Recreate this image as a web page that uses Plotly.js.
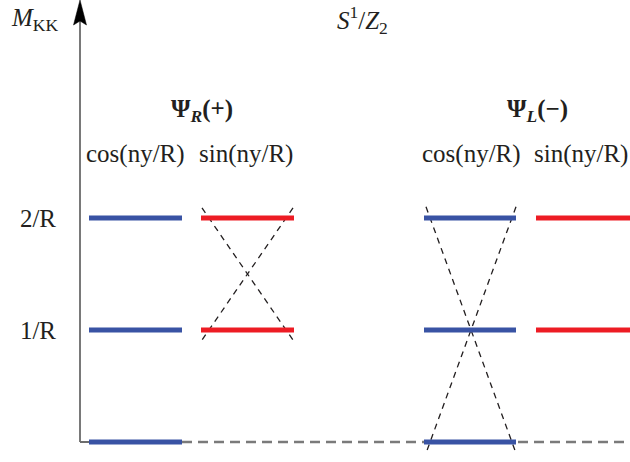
<!DOCTYPE html>
<html>
<head>
<meta charset="utf-8">
<script src="https://cdn.plot.ly/plotly-3.0.1.min.js"></script>
<style>html,body{margin:0;padding:0;background:#fff;}#chart{width:630px;height:462px;}</style>
</head>
<body>
<div id="chart"></div>
<script>
// ---- data ----
const levelTicks = [1, 2];
const levelLabels = ["1/R", "2/R"];
const cosR = [0, 1, 2];     // Psi_R(+) cos(ny/R) KK levels
const sinR = [1, 2];        // Psi_R(+) sin(ny/R) KK levels
const cosL = [0, 1, 2];     // Psi_L(-) cos(ny/R) KK levels
const sinL = [1, 2];        // Psi_L(-) sin(ny/R) KK levels
const mixR = [1, 2];        // levels joined by the crossing lines (Psi_R sin)
const mixL = [0, 2];        // levels joined by the crossing lines (Psi_L cos)
const columnLabels = ["cos(ny/R)", "sin(ny/R)", "cos(ny/R)", "sin(ny/R)"];
const groupLabels = ["<b>Ψ<sub><i>R</i></sub>(+)</b>", "<b>Ψ<sub><i>L</i></sub>(−)</b>"];

// ---- layout constants (pixel-like x scale) ----
const W = 630, H = 462, L = 80;
const yMin = -0.1786, yMax = 3.946;
const cols = [[89, 182], [201, 294], [424, 516], [536, 630]];
const BLUE = "#3953a4", RED = "#ed1c24", TXT = "#231f20";
const FONT = "Liberation Serif, Times New Roman, serif";

function bars(levels, col) {
  const x = [], y = [];
  levels.forEach(v => { x.push(col[0], col[1], null); y.push(v, v, null); });
  return {x, y};
}
function barTrace(levels, col, color) {
  const b = bars(levels, col);
  return {type: "scatter", mode: "lines", x: b.x, y: b.y, hoverinfo: "skip",
          line: {color: color, width: 5}, showlegend: false};
}
function crossTrace(lv, xa, xb, ext) {
  const lo = Math.min(...lv) - ext, hi = Math.max(...lv) + ext;
  return {type: "scatter", mode: "lines", hoverinfo: "skip", showlegend: false,
          x: [xa, xb, null, xb, xa], y: [hi, lo, null, hi, lo],
          line: {color: "#231f20", width: 1.3, dash: "6px,5px"}};
}

const traces = [
  {type: "scatter", mode: "lines", hoverinfo: "skip", showlegend: false,
   x: [cols[0][1], W], y: [cosR[0], cosR[0]],
   line: {color: "#7a7a7a", width: 2.3, dash: "10px,6px"}},
  crossTrace(mixR, 202, 293, 0.09),
  crossTrace(mixL, 426, 516, 0.1),
  barTrace(cosR, cols[0], BLUE),
  barTrace(sinR, cols[1], RED),
  barTrace(cosL, cols[2], BLUE),
  barTrace(sinL, cols[3], RED)
];

const axW = W - L;
const py = p => 1 - p / H;
const px = p => (p - L) / axW;
const ann = (text, xPix, yPix, size) => ({text, x: px(xPix), xref: "paper", y: py(yPix), yref: "paper",
  xanchor: "center", yanchor: "middle", showarrow: false,
  font: {family: FONT, size: size || 25, color: TXT}});

const annotations = [
  ann("<i>M</i><sub>KK</sub>", 34, 20),
  ann("<i>S</i><sup>1</sup>/<i>Z</i><sub>2</sub>", 362, 20),
  ann(groupLabels[0], 202, 110),
  ann(groupLabels[1], 537, 110),
  ann(columnLabels[0], 135.5, 154),
  ann(columnLabels[1], 246, 154),
  ann(columnLabels[2], 471, 154),
  ann(columnLabels[3], 581, 154)
];

const shapes = [
  {type: "line", xref: "paper", yref: "y", x0: 0, x1: 0, y0: 0, y1: 3.8,
   line: {color: "#4d4d4d", width: 1.5}},
  {type: "line", xref: "paper", yref: "y", x0: 0, x1: (89 - L) / axW, y0: 0, y1: 0,
   line: {color: "#6d6d6d", width: 2}},
  {type: "path", xref: "paper", yref: "paper",
   path: `M ${-6.5 / axW} ${py(25)} L 0 ${py(0)} L ${6.5 / axW} ${py(25)} L 0 ${py(21)} Z`,
   fillcolor: "#000", line: {color: "#000", width: 0.5}}
];

const layout = {
  width: W, height: H,
  margin: {l: L, r: 0, t: 0, b: 0, pad: 0},
  paper_bgcolor: "#fff", plot_bgcolor: "#fff",
  showlegend: false,
  xaxis: {range: [L, W], visible: false, fixedrange: true},
  yaxis: {range: [yMin, yMax], tickvals: levelTicks, ticktext: levelLabels,
          ticks: "", showgrid: false, zeroline: false, showline: false,
          ticklabelstandoff: 23, automargin: false, fixedrange: true,
          tickfont: {family: FONT, size: 25, color: TXT}},
  annotations, shapes
};

Plotly.newPlot("chart", traces, layout, {displayModeBar: false, staticPlot: true});
</script>
</body>
</html>
